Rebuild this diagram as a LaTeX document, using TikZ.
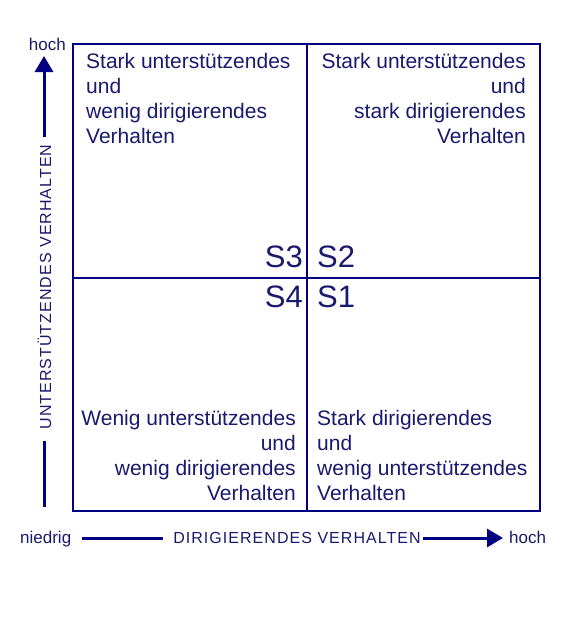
\documentclass[tikz,border=0pt]{standalone}
\usepackage{fontspec}
\setmainfont{Liberation Sans}
\newfontfamily\axisfont[LetterSpace=6.5]{Liberation Sans}
\usetikzlibrary{arrows.meta}
\definecolor{navyline}{RGB}{0,0,128}
\definecolor{navytext}{RGB}{25,25,110}
\tikzset{
  boxline/.style={draw=navyline, line width=2pt},
  axisline/.style={draw=navyline, line width=3pt},
  axisarrow/.style={axisline, -{Triangle[length=16pt,width=18pt]}},
  quadtext/.style={inner sep=0pt, text=navytext, font=\fontsize{21}{25}\selectfont},
  slabel/.style={inner sep=0pt, text=navytext, font=\fontsize{31}{31}\selectfont},
  axistext/.style={inner sep=0pt, text=navytext, font=\axisfont\fontsize{16}{16}\selectfont},
  endtext/.style={inner sep=0pt, text=navytext, font=\fontsize{17}{17}\selectfont},
}
\begin{document}
\begin{tikzpicture}[x=1pt,y=-1pt]
\useasboundingbox (0,0) rectangle (588,618);
% main box
\node[boxline, minimum width=467pt, minimum height=467pt, inner sep=0pt] (box) at (306.5,277.5) {};
\draw[boxline] (box.north) -- (box.south);
\draw[boxline] (box.west) -- (box.east);
% quadrant texts
\node[quadtext, anchor=north west, align=left] (tl) at (86,52.7)
  {Stark unterstützendes\\und\\wenig dirigierendes\\Verhalten};
\node[quadtext, anchor=north east, align=right] (tr) at (526,52.7)
  {Stark unterstützendes\\und\\stark dirigierendes\\Verhalten};
\node[quadtext, anchor=north east, align=right] (bl) at (296,409.7)
  {Wenig unterstützendes\\und\\wenig dirigierendes\\Verhalten};
\node[quadtext, anchor=north west, align=left] (br) at (317,409.7)
  {Stark dirigierendes\\und\\wenig unterstützendes\\Verhalten};
% S labels
\node[slabel, anchor=base east] (s3) at (303,267) {S3};
\node[slabel, anchor=base west] (s2) at (317,267) {S2};
\node[slabel, anchor=base east] (s4) at (303,307) {S4};
\node[slabel, anchor=base west] (s1) at (317,307) {S1};
% vertical axis
\node[endtext, anchor=base east] (hochtop) at (66,51) {hoch};
\node[axistext, rotate=90] (vlabel) at (44.5,287) {UNTERSTÜTZENDES VERHALTEN};
\coordinate (vtip) at (44,56);
\coordinate (vtopend) at (44,137);
\coordinate (vbotstart) at (44,441);
\coordinate (vbotend) at (44,507);
\draw[axisarrow] (vtopend) -- (vtip);
\draw[axisline] (vbotstart) -- (vbotend);
% horizontal axis
\node[endtext, anchor=base west] (niedrig) at (20,543) {niedrig};
\node[axistext, anchor=base] (hlabel) at (297,543.5) {DIRIGIERENDES VERHALTEN};
\node[endtext, anchor=base west] (hochright) at (509,543) {hoch};
\coordinate (hl1) at (82,538);
\coordinate (hl2) at (163,538);
\coordinate (hr1) at (423,538);
\coordinate (htip) at (503,538);
\draw[axisline] (hl1) -- (hl2);
\draw[axisarrow] (hr1) -- (htip);
\end{tikzpicture}
\end{document}
